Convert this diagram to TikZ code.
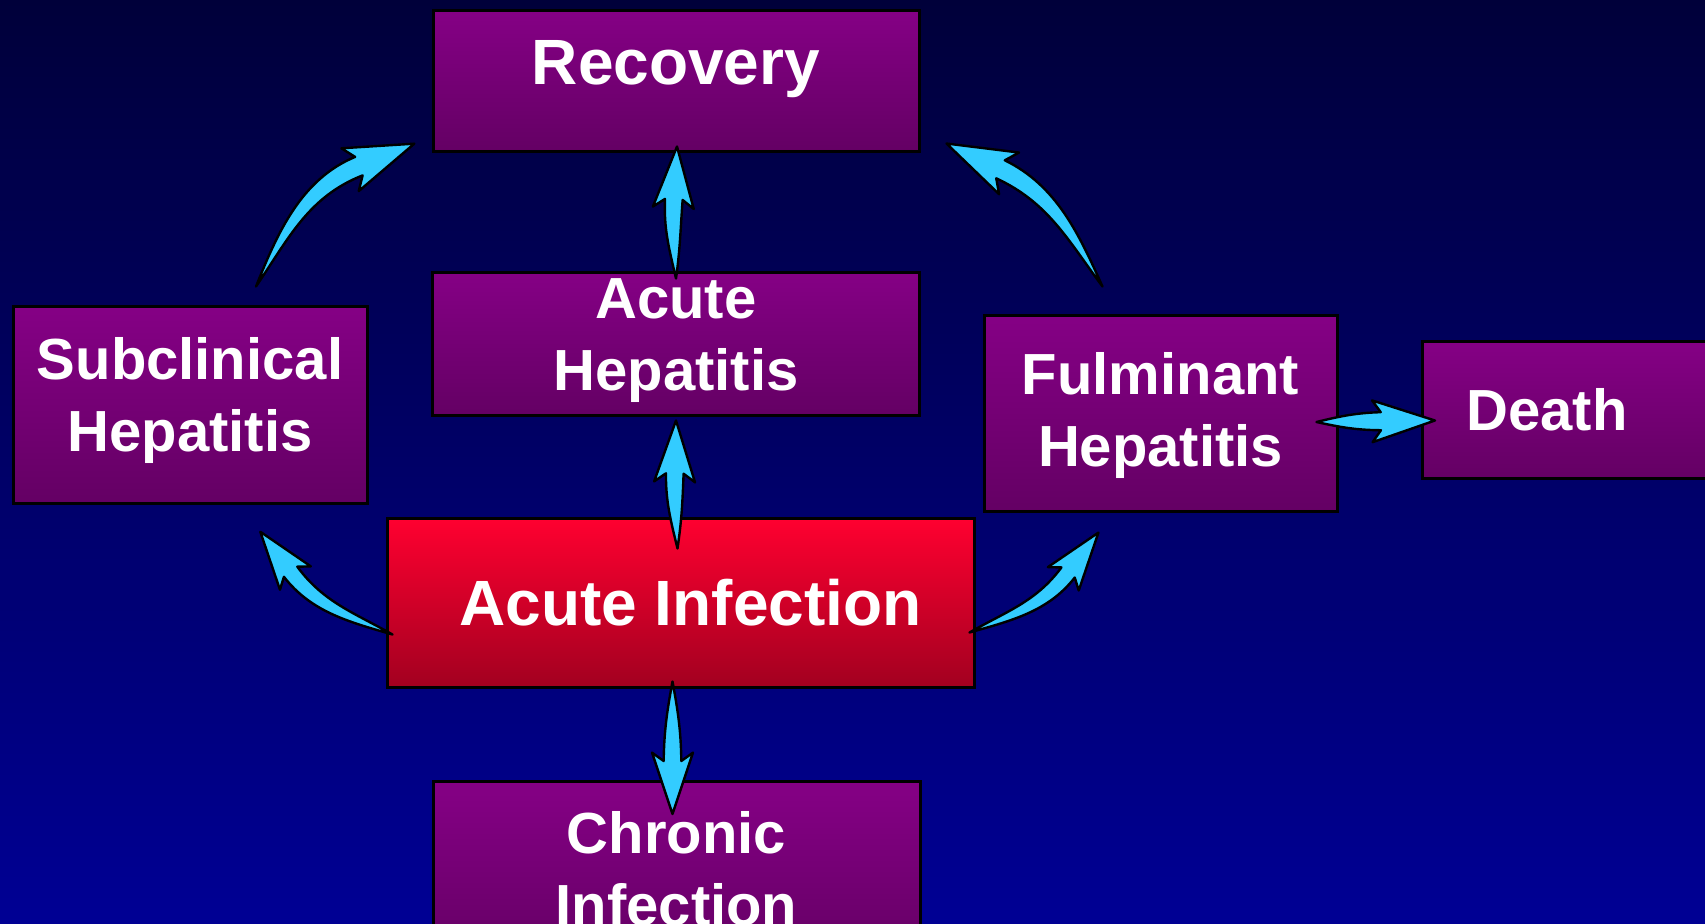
\documentclass[tikz,border=0pt]{standalone}
\usepackage{fontspec}
\setmainfont{Liberation Sans}
\usetikzlibrary{calc,positioning}

\definecolor{bgTop}{HTML}{00003A}
\definecolor{bgBot}{HTML}{000094}
\definecolor{purpTop}{HTML}{850085}
\definecolor{purpBot}{HTML}{640064}
\definecolor{redTop}{HTML}{FF0030}
\definecolor{redBot}{HTML}{A20020}
\definecolor{sky}{HTML}{33CCFF}

% curved block arrow: tail, tip, bend angle, size
\newcommand{\flow}[4]{%
  \path ($(#2)-(#1)$); \pgfgetlastxy{\fdx}{\fdy}%
  \pgfmathsetmacro{\flen}{2*veclen(\fdx,\fdy)}%
  \pgfmathsetmacro{\fang}{atan2(\fdy,\fdx)}%
  \pgfmathsetmacro{\fsh}{0.38*(\flen-57*#4)}%
  \begin{scope}[shift={(#1)}, rotate=\fang]
    \begin{scope}[shift={(\flen,0)}, rotate={-(#3)}]
      \coordinate (ftip) at (0,0);
      \coordinate (fbl) at (-66*#4,22*#4);
      \coordinate (fbr) at (-66*#4,-22*#4);
      \coordinate (fnl) at (-57*#4,9.5*#4);
      \coordinate (fnr) at (-57*#4,-9.5*#4);
      \coordinate (fcl) at (-57*#4-\fsh,9*#4);
      \coordinate (fcr) at (-57*#4-\fsh,-9*#4);
    \end{scope}
    \coordinate (fal) at ({\fsh*cos(#3)-6*#4*sin(#3)},{\fsh*sin(#3)+6*#4*cos(#3)});
    \coordinate (far) at ({\fsh*cos(#3)+6*#4*sin(#3)},{\fsh*sin(#3)-6*#4*cos(#3)});
    \draw[flowline] (0,0) .. controls (fal) and (fcl) .. (fnl)
      -- (fbl) -- (ftip) -- (fbr) -- (fnr)
      .. controls (fcr) and (far) .. (0,0) -- cycle;
  \end{scope}}

\begin{document}
\begin{tikzpicture}[
    x=0.5pt, y=0.5pt,
    stage/.style={rectangle, draw=black, line width=1.5pt, top color=purpTop,
                  bottom color=purpBot, text=white, align=center, inner sep=0pt,
                  font=\bfseries\fontsize{29}{36}\selectfont},
    onset/.style={stage, top color=redTop, bottom color=redBot,
                  font=\bfseries\fontsize{32}{38}\selectfont},
    flowline/.style={fill=sky, draw=black, line width=1.2pt, line join=round}
  ]
  \useasboundingbox (0,0) rectangle (1705,-923);
  \clip (0,0) rectangle (1705,-923);
  \shade[top color=bgTop, bottom color=bgBot] (0,0) rectangle (1705,-923);

  \node[stage, minimum width=243pt, minimum height=70.5pt, text depth=18pt,
        font=\bfseries\fontsize{32}{38}\selectfont] (rec) at (676,-80.5) {Recovery};
  \node[stage, below=59pt of rec, minimum width=243.5pt, minimum height=71.5pt,
        text depth=9pt] (ahep) {Acute\\Hepatitis};
  \node[onset, minimum width=293.5pt, minimum height=84.5pt] (ainf) at (680.5,-602.5) {\hspace*{10pt}Acute Infection};
  \node[stage, anchor=north, minimum width=243.5pt, minimum height=90pt,
        text depth=3pt] (chron) at (676.5,-780) {Chronic\\Infection};
  \node[stage, minimum width=177pt, minimum height=98.5pt, text depth=10pt] (sub) at (190,-404.5) {Subclinical\\Hepatitis};
  \node[stage, minimum width=176.5pt, minimum height=98pt, text depth=4pt] (ful) at (1160.5,-413) {Fulminant\\Hepatitis};
  \node[stage, anchor=west, minimum height=68.5pt, text width=124pt, align=left,
        inner xsep=22pt] (death) at (1421,-409.5) {Death};

  \flow{[shift={(66,18)}]sub.north}{[shift={(-17,9)}]rec.south west}{20}{1.05}
  \flow{[shift={(0,-8)}]ahep.north}{[shift={(1,6)}]rec.south}{3}{0.93}
  \flow{[shift={(-3,-32)}]ainf.north}{[shift={(0,-4)}]ahep.south}{2}{0.93}
  \flow{[shift={(7,-32)}]ainf.west}{[shift={(70,-27)}]sub.south}{15}{0.88}
  \flow{[shift={(-6,-30)}]ainf.east}{[shift={(-62,-20)}]ful.south}{-15}{0.88}
  \flow{[shift={(-58,27)}]ful.north}{[shift={(26,9)}]rec.south east}{-17}{1.05}
  \flow{[shift={(-22,-9)}]ful.east}{[shift={(14,-11)}]death.west}{0}{0.95}
  \flow{[shift={(-8,7)}]ainf.south}{[shift={(-4,-34)}]chron.north}{0}{0.93}
\end{tikzpicture}
\end{document}
